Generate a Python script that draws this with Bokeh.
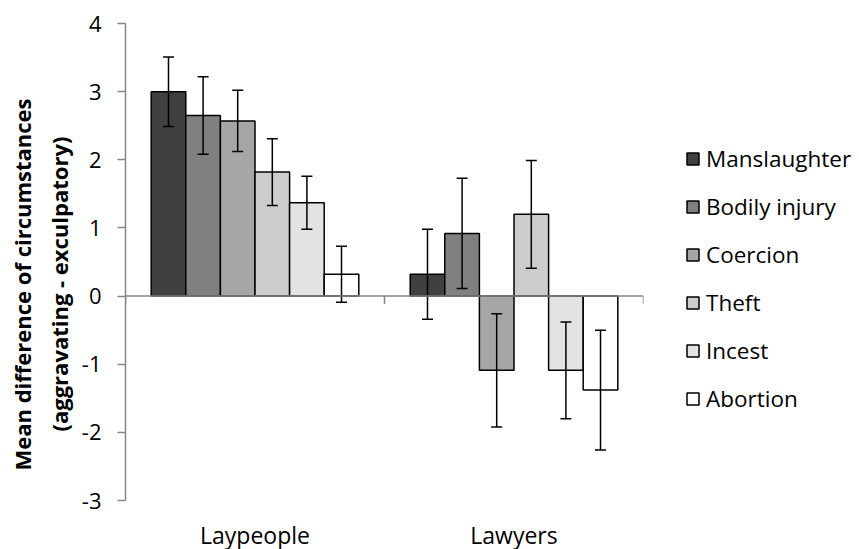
from bokeh.plotting import figure
from bokeh.models import (ColumnDataSource, FixedTicker, Span, Legend, LegendItem,
                          Whisker, TeeHead, Title)
from bokeh.embed import file_html
from bokeh.resources import INLINE

# ---- data -----------------------------------------------------------------
groups = ["Laypeople", "Lawyers"]
crimes = ["Manslaughter", "Bodily injury", "Coercion", "Theft", "Incest", "Abortion"]
laypeople_mean = [3.00, 2.65, 2.57, 1.82, 1.37, 0.32]
laypeople_err = [0.51, 0.57, 0.45, 0.49, 0.39, 0.41]
lawyers_mean = [0.32, 0.92, -1.09, 1.20, -1.09, -1.38]
lawyers_err = [0.66, 0.81, 0.83, 0.79, 0.71, 0.88]
y_ticks = [-3, -2, -1, 0, 1, 2, 3, 4]
y_title = ["Mean difference of circumstances", "(aggravating - exculpatory)"]
colors = ["#404040", "#808080", "#a6a6a6", "#cccccc", "#e3e3e3", "#ffffff"]

FONT = "Open Sans"
AXIS_GREY = "#868686"

Y_START, Y_END = -3, 4
FRAME_W, FRAME_H = 518, 477

p = figure(frame_width=FRAME_W, frame_height=FRAME_H,
           x_range=(0, len(groups)), y_range=(Y_START, Y_END),
           output_backend="svg", toolbar_location=None,
           min_border_left=125, min_border_right=216,
           min_border_top=23, min_border_bottom=49)
p.outline_line_color = None
p.background_fill_color = "white"
p.border_fill_color = "white"
p.xgrid.visible = False
p.ygrid.visible = False

means = [laypeople_mean, lawyers_mean]
errs = [laypeople_err, lawyers_err]
n = len(crimes)
bar_w = 0.1336  # width of one bar in category units
centers = [g + 0.5 for g in range(len(groups))]

legend_items = []
for i, crime in enumerate(crimes):
    xs = [c + (i - (n - 1) / 2) * bar_w for c in centers]
    tops = [m[i] for m in means]
    lo = [m[i] - e[i] for m, e in zip(means, errs)]
    hi = [m[i] + e[i] for m, e in zip(means, errs)]
    src = ColumnDataSource(dict(x=xs, top=tops, lower=lo, upper=hi))
    r = p.vbar(x="x", top="top", bottom=0, width=bar_w, source=src,
               fill_color=colors[i], line_color="black", line_width=1.5)
    legend_items.append(LegendItem(label=crime, renderers=[r]))
    w = Whisker(base="x", lower="lower", upper="upper", source=src, level="annotation",
                line_color="black", line_width=1.5,
                upper_head=TeeHead(size=11, line_color="black", line_width=1.5),
                lower_head=TeeHead(size=11, line_color="black", line_width=1.5))
    p.add_layout(w)

# horizontal axis line crossing at zero, with category boundary ticks
p.add_layout(Span(location=0, dimension="width", line_color=AXIS_GREY, line_width=1.5))
tick_len = 8 * (Y_END - Y_START) / FRAME_H
bounds = list(range(len(groups) + 1))
p.segment(x0=bounds, x1=bounds, y0=[0] * len(bounds), y1=[-tick_len] * len(bounds),
          line_color=AXIS_GREY, line_width=1.5)

# y axis
yax = p.yaxis[0]
yax.ticker = FixedTicker(ticks=y_ticks)
yax.major_label_overrides = {t: str(t) for t in y_ticks}
yax.minor_tick_line_color = None
yax.major_tick_in = 0
yax.major_tick_out = 8
yax.axis_line_color = AXIS_GREY
yax.axis_line_width = 1.5
yax.major_tick_line_color = AXIS_GREY
yax.major_tick_line_width = 1.5
yax.major_label_text_font = FONT
yax.major_label_text_font_size = "22px"
yax.major_label_text_color = "black"
yax.major_label_standoff = 16

# two-line y axis title, the shorter line centred under the longer one
for line, off, gap in zip(reversed(y_title), [69, 30], [10, 0]):
    t = Title(text=line, align="left", offset=off, standoff=gap,
              text_font=FONT, text_font_size="22px", text_font_style="bold",
              text_color="black")
    p.add_layout(t, "left")

# x axis: category names only, sitting below the plot
xax = p.xaxis[0]
xax.ticker = FixedTicker(ticks=centers)
xax.major_label_overrides = {c: g for c, g in zip(centers, groups)}
xax.axis_line_color = None
xax.major_tick_line_color = None
xax.minor_tick_line_color = None
xax.major_label_text_font = FONT
xax.major_label_text_font_size = "23px"
xax.major_label_text_color = "black"
xax.major_label_standoff = 12

legend = Legend(items=legend_items, location=(42, 86),
                border_line_color=None, background_fill_alpha=0,
                padding=0, margin=0, spacing=16,
                glyph_width=15, glyph_height=15, label_height=32,
                label_standoff=6,
                label_text_font=FONT, label_text_font_size="22.5px",
                label_text_color="black")
p.add_layout(legend, "right")

open("out.html", "w").write(file_html(p, INLINE))
